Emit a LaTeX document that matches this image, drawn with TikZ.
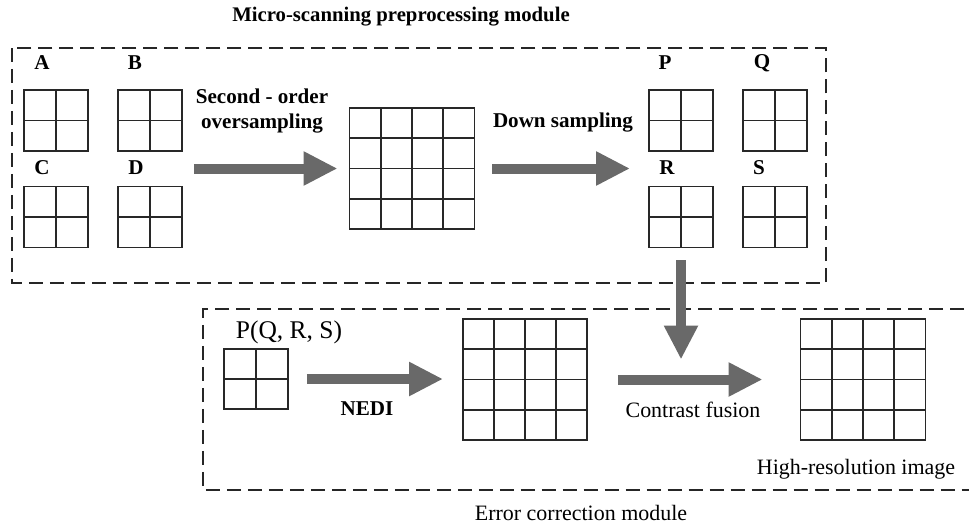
\documentclass[tikz,border=0pt]{standalone}
\usepackage{fontspec}
\setmainfont{Liberation Serif}
\usetikzlibrary{arrows.meta, positioning, calc}
\definecolor{arrowgray}{RGB}{105,105,105}
\definecolor{gridline}{RGB}{40,40,40}

\tikzset{
  cell2/.style={draw=gridline, line width=1pt, inner sep=0pt, outer sep=0pt,
    minimum width=1.28cm, minimum height=1.22cm,
    path picture={\draw[gridline, line width=1pt]
      (path picture bounding box.north) -- (path picture bounding box.south)
      (path picture bounding box.west) -- (path picture bounding box.east);}},
  cell4/.style={draw=gridline, line width=1pt, inner sep=0pt, outer sep=0pt,
    minimum width=2.5cm, minimum height=2.42cm,
    path picture={\foreach \f in {0.25,0.5,0.75} {\draw[gridline, line width=1pt]
      ($(path picture bounding box.north west)!\f!(path picture bounding box.north east)$) --
      ($(path picture bounding box.south west)!\f!(path picture bounding box.south east)$)
      ($(path picture bounding box.north west)!\f!(path picture bounding box.south west)$) --
      ($(path picture bounding box.north east)!\f!(path picture bounding box.south east)$);}}},
  fat/.style={arrowgray, line width=0.2cm, -{Triangle[length=0.68cm, width=0.64cm]}},
  module/.style={draw=black!85, line width=1.2pt, dash pattern=on 0.29cm off 0.13cm},
  lbl/.style={font=\bfseries\fontsize{12}{14.5}\selectfont, inner sep=0pt},
  txt/.style={font=\fontsize{12.5}{15}\selectfont, inner sep=0pt},
}

\begin{document}
\begin{tikzpicture}[x=0.02cm, y=-0.02cm]
    \useasboundingbox (0,0) rectangle (969,524);

    % Modules
    \draw[module] (12,48) rectangle (826,283);
    \draw[module] (985,309) -- (203,309) -- (203,490) -- (985,490);
    \node[txt, font=\bfseries\fontsize{11.8}{14}\selectfont] (premod) at (401,17) {Micro-scanning preprocessing module};
    \node[txt] (errmod) at (581,513) {Error correction module};

    % Low-resolution frames
    \node[cell2] (A) at (56,120.5) {};
    \node[cell2] (B) at (150,120.5) {};
    \node[cell2] (C) at (56,217) {};
    \node[cell2] (D) at (150,217) {};
    \node[lbl] (la) at (42,63) {A};
    \node[lbl] (lb) at (135,63) {B};
    \node[lbl] (lc) at (42,168) {C};
    \node[lbl] (ld) at (136,168) {D};

    % Oversampled image
    \node[cell4] (big1) at (412,168.5) {};

    % Down sampled frames
    \node[cell2] (P) at (681,120.5) {};
    \node[cell2] (Q) at (775,120.5) {};
    \node[cell2] (R) at (681,217) {};
    \node[cell2] (S) at (775,217) {};
    \node[lbl] (lp) at (665,63) {P};
    \node[lbl] (lq) at (762,63) {Q};
    \node[lbl] (lr) at (667,168) {R};
    \node[lbl] (ls) at (759,168) {S};

    % Error correction
    \node[cell2, minimum height=1.2cm] (pqrs) at (256,379) {};
    \node[txt, font=\fontsize{14.5}{17}\selectfont] (lpqrs) at (289,332) {P(Q, R, S)};
    \node[cell4, minimum width=2.48cm] (big2) at (525,379.5) {};
    \node[cell4] (big3) at (863,379.5) {};

    % Arrows
    \draw[fat] ($(B.east |- big1.west)+(12,0)$) -- ($(big1.west)+(-12,0)$);
    \node[lbl, align=center] (over) at (262,111) {Second - order\\oversampling};
    \draw[fat] ($(big1.east)+(18,0)$) -- ($(big1.east -| P.west)+(-19,0)$);
    \node[lbl] (down) at (563,123) {Down sampling};
    \draw[fat] ($(R.south)+(0,13)$) -- ($(R.south |- big2.east)+(0,-20)$);
    \draw[fat] ($(pqrs.east)+(19,0)$) -- ($(big2.west |- pqrs.east)+(-20,0)$);
    \node[lbl] (nedi) at (367,409) {NEDI};
    \draw[fat] ($(big2.east)+(31,0)$) -- ($(big3.west)+(-38,0)$);
    \node[txt] (fusion) at (693,410) {Contrast fusion};
    \node[txt] (hires) at (856,469) {High-resolution image};
\end{tikzpicture}
\end{document}
